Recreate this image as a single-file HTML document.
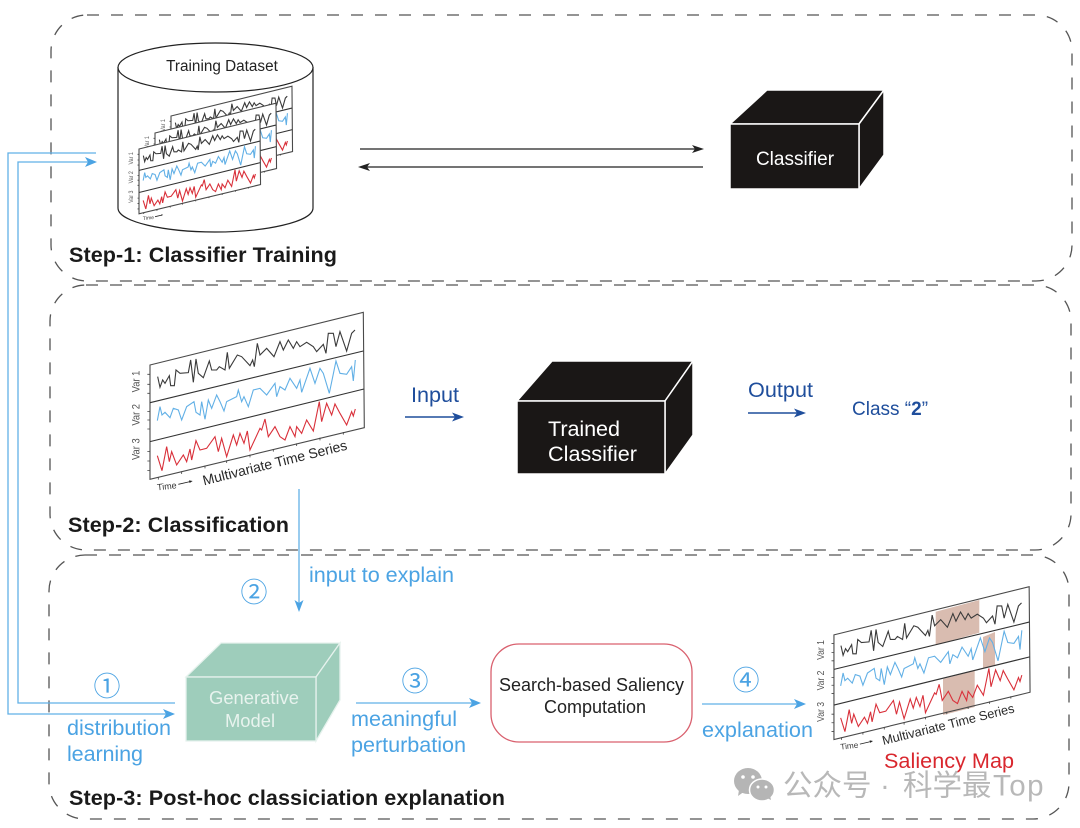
<!DOCTYPE html>
<html><head><meta charset="utf-8"><style>
html,body{margin:0;padding:0;background:#fff}
svg{display:block}
text{font-family:"Liberation Sans","Noto Sans CJK SC",sans-serif}
.ln{fill:none;vector-effect:non-scaling-stroke;stroke-linejoin:miter}
.bl{fill:#4ba3e3;font-size:21.6px}
.st{font-weight:bold;fill:#1a1a1a;font-size:21.6px}
.num{fill:#4ba3e3;font-size:27px;text-anchor:middle}
</style></head><body>
<svg width="1080" height="828" viewBox="0 0 1080 828" xmlns="http://www.w3.org/2000/svg">
<defs>
<polygon id="bg" points="90,180 730,22 733,368 90,523" fill="#fff"/>
<g id="lines">
<polygon class="ln" points="90,180 730,22 733,368 90,523" stroke="#4a4a4a" stroke-width="1.1"/>
<path class="ln" d="M90,293L730,138M90,410L732,252" stroke="#333" stroke-width="1.1"/>
<path class="ln" d="M82,208H90M82,238H90M82,265H90M82,320H90M82,345H90M82,372H90M82,440H90M82,468H90M82,497H90M115,516V524M185,499V507M255,482V490M320,466V474M390,449V457M460,432V440M530,415V423M600,398V406M670,381V389" stroke="#444" stroke-width=".8"/>
<polyline class="ln" stroke="#3a3a3a" stroke-width="1.1" points="113,215 120,247 128,225 135,235 148,212 152,242 163,242 168,195 180,205 205,203 212,165 220,232 228,162 235,205 250,218 268,168 275,195 290,195 298,185 315,195 322,142 328,190 352,150 365,155 390,182 398,165 403,185 412,115 420,150 440,130 462,155 480,110 490,135 505,105 520,130 530,110 540,125 560,112 580,125 590,140 610,118 618,145 625,85 640,85 648,125 660,80 680,138 695,85 705,75"/>
<polyline class="ln" stroke="#62b0e6" stroke-width="1.1" points="112,347 120,305 126,330 135,322 150,338 160,310 175,315 185,345 200,305 222,290 228,322 240,330 245,290 255,343 265,285 275,310 290,270 300,290 312,318 320,290 350,275 355,255 365,290 372,275 385,305 400,255 420,250 440,270 465,235 470,275 480,245 495,255 510,220 530,250 540,225 545,262 570,190 585,235 600,190 610,205 628,265 648,168 660,205 680,208 695,185 700,228 706,165"/>
<polyline class="ln" stroke="#d9303a" stroke-width="1.1" points="112,452 126,497 140,425 148,470 155,440 170,480 190,450 200,470 210,432 215,465 228,407 240,435 260,430 285,395 295,440 305,400 320,455 340,390 350,420 360,385 372,415 382,378 390,435 420,370 425,375 435,342 445,395 465,365 480,395 495,405 510,365 525,395 530,365 545,385 560,345 580,378 598,290 605,350 620,295 635,330 645,297 660,325 680,360 695,320 700,333 706,312"/>
<g fill="#555" font-size="33">
<text transform="translate(58,262) rotate(-90)" textLength="65" lengthAdjust="spacingAndGlyphs">Var 1</text>
<text transform="translate(58,362) rotate(-90)" textLength="65" lengthAdjust="spacingAndGlyphs">Var 2</text>
<text transform="translate(58,465) rotate(-90)" textLength="65" lengthAdjust="spacingAndGlyphs">Var 3</text>
</g>
</g>
<g id="time">
<text transform="translate(112,556) rotate(-6)" font-size="27" fill="#333">Time</text>
<path class="ln" d="M175,538L210,530" stroke="#222" stroke-width=".8"/>
<polygon points="218,528 207,526 209,534" fill="#222"/>
</g>
<text id="mts" transform="translate(252,541) rotate(-14)" font-size="42" fill="#2a2a2a" textLength="445">Multivariate Time Series</text>
</defs>

<g fill="none" stroke="#555" stroke-width="1.3" stroke-dasharray="12 12">
<rect x="51" y="15" width="1021" height="266" rx="36"/>
<rect x="50" y="285" width="1021" height="265" rx="36"/>
<rect x="49" y="555" width="1020" height="264" rx="36"/>
</g>

<!-- cylinder -->
<path d="M118,67V208C118,222 165,232 215,232C265,232 313,222 313,208V67" fill="#fff" stroke="#222" stroke-width="1.2"/>
<ellipse cx="215.500" cy="67.500" rx="97.500" ry="24.500" fill="#fff" stroke="#222" stroke-width="1.2"/>
<text x="222" y="71" font-size="15.300" text-anchor="middle" fill="#222">Training Dataset</text>
<g transform="translate(154,82) scale(.189)"><use href="#bg"/><use href="#lines"/></g>
<g transform="translate(138,99) scale(.189)"><use href="#bg"/><use href="#lines"/></g>
<g transform="translate(122,115) scale(.189)"><use href="#bg"/><use href="#lines"/><use href="#time"/></g>

<!-- classifier cube -->
<g stroke="#fff" stroke-width="1.5" fill="#1a1716">
<polygon points="730,124 767,90 884,90 859,124"/>
<polygon points="859,124 884,90 884,155 859,189"/>
<rect x="730" y="124" width="129" height="65"/>
</g>
<text x="795" y="165" font-size="19" text-anchor="middle" fill="#fff">Classifier</text>
<path d="M360,149H695M703,167H366" stroke="#222" stroke-width="1.200" fill="none"/>
<polygon points="704,149 692,145 695,149 692,153" fill="#222"/>
<polygon points="358,167 370,163 367,167 370,171" fill="#222"/>
<text x="69" y="262" class="st" textLength="268">Step-1: Classifier Training</text>

<!-- step 2 -->
<g transform="translate(120,305) scale(.3333)"><use href="#lines"/><use href="#time"/><use href="#mts"/></g>
<text x="411" y="402" font-size="21.600" fill="#1f4e9c" textLength="48">Input</text>
<path d="M405,417H456" stroke="#1f4e9c" stroke-width="1.400" fill="none"/>
<polygon points="464,417 452,412.500 455,417 452,421.500" fill="#1f4e9c"/>
<g stroke="#fff" stroke-width="1.500" fill="#1a1716">
<polygon points="517,401 552,361 693,361 665,401"/>
<polygon points="665,401 693,361 693,435 665,474"/>
<rect x="517" y="401" width="148" height="73"/>
</g>
<text x="548" y="436" font-size="21.600" fill="#fff" textLength="72">Trained</text>
<text x="548" y="461" font-size="21.600" fill="#fff" textLength="89">Classifier</text>
<text x="748" y="397" font-size="21.600" fill="#1f4e9c" textLength="65">Output</text>
<path d="M748,413H798" stroke="#1f4e9c" stroke-width="1.400" fill="none"/>
<polygon points="806,413 794,408.500 797,413 794,417.500" fill="#1f4e9c"/>
<text x="852" y="415" font-size="19" fill="#1f4e9c">Class “<tspan font-weight="bold">2</tspan>”</text>
<text x="68" y="532" class="st" textLength="221">Step-2: Classification</text>

<!-- blue feedback lines -->
<g fill="none" stroke="#62b0e6" stroke-width="1.300">
<path d="M96,153H8V714H170"/>
<path d="M88,162H18V703H175"/>
<path d="M299,489V604"/>
<path d="M356,703H473"/>
<path d="M702,704H798"/>
</g>
<g fill="#4ba3e3">
<polygon points="97,162 85,157 88,162 85,167"/>
<polygon points="175,714 163,709 166,714 163,719"/>
<polygon points="299,612 294.500,600 299,603 303.500,600"/>
<polygon points="481,703 469,698 472,703 469,708"/>
<polygon points="806,704 794,699 797,704 794,709"/>
</g>
<text x="309" y="582" class="bl" textLength="145">input to explain</text>
<text x="107" y="696" class="num">①</text>
<text x="254" y="602" class="num">②</text>
<text x="415" y="691" class="num">③</text>
<text x="746" y="690" class="num">④</text>
<text x="67" y="735" class="bl" textLength="104">distribution</text>
<text x="67" y="761" class="bl" textLength="76">learning</text>
<text x="351" y="726" class="bl" textLength="106">meaningful</text>
<text x="351" y="752" class="bl" textLength="115">perturbation</text>
<text x="702" y="737" class="bl" textLength="111">explanation</text>

<!-- generative cube -->
<g stroke="#e6f2ed" stroke-width="1.300" fill="#9ecdbb">
<polygon points="186,677 221,643 340,643 316,677"/>
<polygon points="316,677 340,643 340,700 316,741"/>
<rect x="186" y="677" width="130" height="64"/>
</g>
<text x="254" y="704" font-size="18.400" text-anchor="middle" fill="#e8f3ee">Generative</text>
<text x="250" y="727" font-size="18.400" text-anchor="middle" fill="#e8f3ee">Model</text>

<!-- search box -->
<rect x="491" y="644" width="201" height="98" rx="28" fill="#fff" stroke="#d9606e" stroke-width="1.300"/>
<text x="591.500" y="691" font-size="18" text-anchor="middle" fill="#222">Search-based Saliency</text>
<text x="595" y="713" font-size="18" text-anchor="middle" fill="#222">Computation</text>

<!-- saliency map -->
<g fill="#d9bcb0">
<polygon points="935.700,611.700 979.300,600 979.300,632.700 935.700,645"/>
<polygon points="983,637 995,632 995,665 983,668"/>
<polygon points="943,679 974.700,670.700 974.700,707 943,715"/>
</g>
<g transform="translate(806.500,580) scale(.305)"><use href="#lines"/><use href="#time"/><use href="#mts"/></g>
<text x="884" y="768" font-size="21.600" fill="#d9272e" textLength="130">Saliency Map</text>

<!-- watermark -->
<g fill="#b5b5b5">
<ellipse cx="748" cy="781" rx="14" ry="13"/>
<polygon points="739,790 738,796 745,791"/>
<ellipse cx="762" cy="790" rx="12.500" ry="11" stroke="#fff" stroke-width="1.500"/>
<polygon points="767,798 771,800 770,795"/>
</g>
<g fill="#fff"><circle cx="743" cy="777" r="1.800"/><circle cx="753" cy="777" r="1.800"/><circle cx="758" cy="787" r="1.500"/><circle cx="766" cy="787" r="1.500"/></g>
<text y="795.500" font-size="29.500" fill="#b8b8b8"><tspan x="783">公众号</tspan><tspan x="880">·</tspan><tspan x="903">科学最</tspan><tspan x="993" letter-spacing="1.500">Top</tspan></text>

<text x="69" y="805" class="st" textLength="436">Step-3: Post-hoc classiciation explanation</text>
</svg>
</body></html>
